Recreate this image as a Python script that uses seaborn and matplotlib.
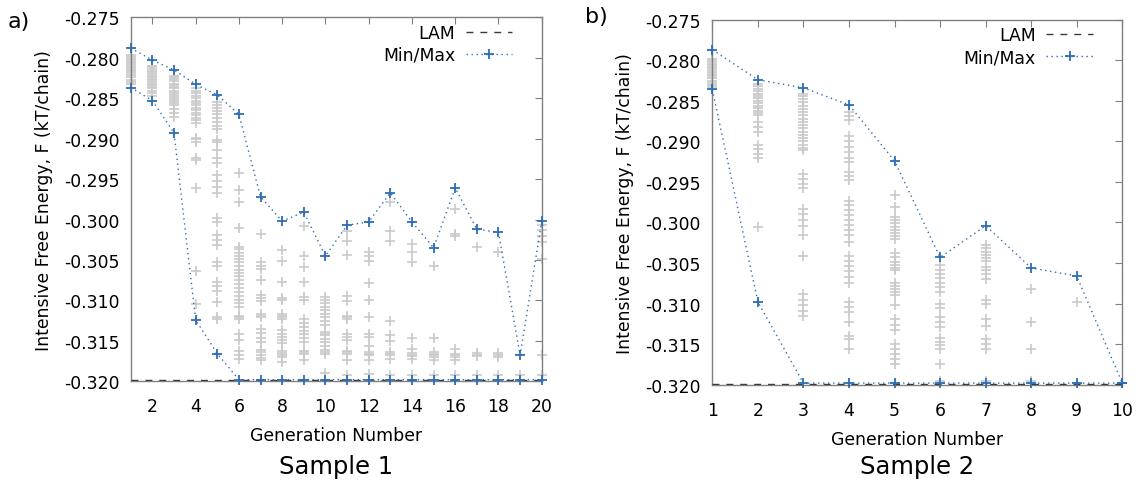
import numpy as np
import pandas as pd
import matplotlib
matplotlib.use("Agg")
import matplotlib.pyplot as plt
import seaborn as sns
from matplotlib.lines import Line2D

# ---------------- data ----------------
lam_value = -0.31985

s1_gens = list(range(1, 21))
s1_max = [-0.2788, -0.2803, -0.2815, -0.2833, -0.2846, -0.2870, -0.2972, -0.3002, -0.2991, -0.3045,
          -0.3007, -0.3003, -0.2967, -0.3003, -0.3035, -0.2961, -0.3012, -0.3016, -0.3168, -0.3002]
s1_min = [-0.2837, -0.2853, -0.2893, -0.3124, -0.3166, -0.3198, -0.3198, -0.3198, -0.3198, -0.3198,
          -0.3198, -0.3198, -0.3198, -0.3198, -0.3198, -0.3198, -0.3198, -0.3198, -0.3198, -0.3198]
s1_pop = [
    [-0.2797, -0.2799, -0.2801, -0.2803, -0.2805, -0.2807, -0.2809, -0.2811, -0.2813, -0.2815, -0.2817,
     -0.2819, -0.2821, -0.2824, -0.2827, -0.2830, -0.2833],
    [-0.2810, -0.2812, -0.2814, -0.2816, -0.2818, -0.2820, -0.2822, -0.2824, -0.2826, -0.2828, -0.2830,
     -0.2832, -0.2834, -0.2836, -0.2838, -0.2841, -0.2844, -0.2847],
    [-0.2822, -0.2824, -0.2826, -0.2829, -0.2832, -0.2834, -0.2836, -0.2838, -0.2841, -0.2844, -0.2846,
     -0.2849, -0.2851, -0.2853, -0.2856, -0.2859, -0.2863, -0.2868, -0.2873],
    [-0.2838, -0.2841, -0.2844, -0.2847, -0.2850, -0.2853, -0.2856, -0.2859, -0.2862, -0.2865, -0.2868,
     -0.2871, -0.2874, -0.2877, -0.2881, -0.2899, -0.2901, -0.2904, -0.2924, -0.2927, -0.2961, -0.3064,
     -0.3105],
    [-0.2855, -0.2858, -0.2862, -0.2866, -0.2870, -0.2875, -0.2879, -0.2884, -0.2888, -0.2902, -0.2904,
     -0.2914, -0.2924, -0.2930, -0.2945, -0.2952, -0.2960, -0.2967, -0.2998, -0.3003, -0.3019, -0.3025,
     -0.3032, -0.3052, -0.3058, -0.3077, -0.3082, -0.3088, -0.3102, -0.3120, -0.3123],
    [-0.2943, -0.2963, -0.2978, -0.3011, -0.3034, -0.3037, -0.3041, -0.3045, -0.3049, -0.3053, -0.3057,
     -0.3062, -0.3066, -0.3070, -0.3075, -0.3080, -0.3085, -0.3090, -0.3094, -0.3099, -0.3103, -0.3108,
     -0.3119, -0.3121, -0.3123, -0.3142, -0.3149, -0.3162, -0.3167, -0.3172],
    [-0.3018, -0.3053, -0.3057, -0.3061, -0.3075, -0.3093, -0.3097, -0.3101, -0.3117, -0.3119, -0.3121,
     -0.3135, -0.3140, -0.3146, -0.3151, -0.3161, -0.3164, -0.3167, -0.3171, -0.3174],
    [-0.3038, -0.3051, -0.3077, -0.3097, -0.3100, -0.3117, -0.3119, -0.3121, -0.3123, -0.3137, -0.3141,
     -0.3145, -0.3149, -0.3153, -0.3163, -0.3165, -0.3167, -0.3170, -0.3176],
    [-0.3008, -0.3045, -0.3059, -0.3077, -0.3096, -0.3100, -0.3123, -0.3128, -0.3133, -0.3138, -0.3142,
     -0.3147, -0.3152, -0.3162, -0.3164, -0.3166, -0.3174],
    [-0.3096, -0.3099, -0.3103, -0.3108, -0.3112, -0.3117, -0.3121, -0.3126, -0.3131, -0.3139, -0.3141,
     -0.3143, -0.3148, -0.3152, -0.3157, -0.3161, -0.3164, -0.3166, -0.3190],
    [-0.3014, -0.3026, -0.3044, -0.3094, -0.3101, -0.3119, -0.3121, -0.3123, -0.3141, -0.3145, -0.3149,
     -0.3162, -0.3164, -0.3166, -0.3174, -0.3192],
    [-0.3040, -0.3045, -0.3051, -0.3079, -0.3100, -0.3121, -0.3141, -0.3145, -0.3156, -0.3164, -0.3166,
     -0.3168, -0.3174, -0.3191],
    [-0.2978, -0.3014, -0.3027, -0.3125, -0.3143, -0.3150, -0.3164, -0.3166, -0.3168, -0.3172, -0.3192],
    [-0.3030, -0.3040, -0.3053, -0.3147, -0.3160, -0.3165, -0.3167, -0.3169, -0.3172, -0.3192],
    [-0.3057, -0.3147, -0.3164, -0.3166, -0.3168, -0.3170, -0.3174, -0.3192],
    [-0.2987, -0.3018, -0.3020, -0.3160, -0.3166, -0.3168, -0.3170, -0.3174, -0.3192],
    [-0.3034, -0.3165, -0.3167, -0.3169, -0.3192],
    [-0.3040, -0.3165, -0.3167, -0.3170, -0.3192],
    [-0.3192],
    [-0.3007, -0.3013, -0.3020, -0.3028, -0.3049, -0.3168, -0.3192],
]

s2_gens = list(range(1, 11))
s2_max = [-0.2787, -0.2824, -0.2834, -0.2855, -0.2924, -0.3043, -0.3004, -0.3056, -0.3066, -0.3198]
s2_min = [-0.2836, -0.3098, -0.3198, -0.3198, -0.3198, -0.3198, -0.3198, -0.3198, -0.3198, -0.3198]
s2_pop = [
    [-0.2798, -0.2800, -0.2802, -0.2804, -0.2806, -0.2808, -0.2810, -0.2812, -0.2814, -0.2816, -0.2818,
     -0.2820, -0.2822, -0.2825, -0.2828, -0.2831, -0.2833],
    [-0.2829, -0.2832, -0.2835, -0.2838, -0.2841, -0.2844, -0.2847, -0.2850, -0.2853, -0.2856, -0.2859,
     -0.2862, -0.2865, -0.2868, -0.2876, -0.2882, -0.2888, -0.2905, -0.2910, -0.2916, -0.2921, -0.3005],
    [-0.2841, -0.2844, -0.2848, -0.2852, -0.2856, -0.2860, -0.2864, -0.2868, -0.2872, -0.2876, -0.2880,
     -0.2884, -0.2888, -0.2892, -0.2896, -0.2900, -0.2904, -0.2908, -0.2911, -0.2940, -0.2946, -0.2952,
     -0.2958, -0.2983, -0.2990, -0.2997, -0.3004, -0.3016, -0.3041, -0.3088, -0.3095, -0.3102, -0.3109,
     -0.3115],
    [-0.2864, -0.2869, -0.2874, -0.2893, -0.2900, -0.2907, -0.2913, -0.2920, -0.2926, -0.2938, -0.2943,
     -0.2948, -0.2973, -0.2979, -0.2985, -0.2991, -0.2997, -0.3003, -0.3009, -0.3015, -0.3024, -0.3041,
     -0.3047, -0.3054, -0.3060, -0.3067, -0.3074, -0.3098, -0.3104, -0.3110, -0.3123, -0.3140, -0.3144,
     -0.3156],
    [-0.2966, -0.2981, -0.2993, -0.2997, -0.3001, -0.3005, -0.3009, -0.3013, -0.3017, -0.3020, -0.3037,
     -0.3043, -0.3049, -0.3053, -0.3056, -0.3059, -0.3074, -0.3078, -0.3082, -0.3086, -0.3090, -0.3102,
     -0.3119, -0.3126, -0.3133, -0.3150, -0.3156, -0.3162, -0.3168, -0.3174],
    [-0.3053, -0.3058, -0.3063, -0.3069, -0.3075, -0.3080, -0.3086, -0.3100, -0.3105, -0.3117, -0.3123,
     -0.3129, -0.3142, -0.3147, -0.3151, -0.3156, -0.3174, -0.3195],
    [-0.3028, -0.3032, -0.3036, -0.3040, -0.3044, -0.3047, -0.3055, -0.3059, -0.3063, -0.3070, -0.3096,
     -0.3100, -0.3119, -0.3127, -0.3144, -0.3150, -0.3156, -0.3195],
    [-0.3082, -0.3123, -0.3156, -0.3195],
    [-0.3098],
    [],
]

y_ticks = [-0.275, -0.280, -0.285, -0.290, -0.295, -0.300, -0.305, -0.310, -0.315, -0.320]
s1_xticks = [2, 4, 6, 8, 10, 12, 14, 16, 18, 20]
s2_xticks = [1, 2, 3, 4, 5, 6, 7, 8, 9, 10]

# ---------------- style ----------------
sns.set_style("white")
plt.rcParams['font.family'] = ['DejaVu Sans']
plt.rcParams['axes.unicode_minus'] = False
plt.rcParams['text.color'] = 'black'
plt.rcParams['axes.labelcolor'] = 'black'
plt.rcParams['xtick.color'] = 'black'
plt.rcParams['ytick.color'] = 'black'

BLUE = '#2e6db4'
GRAY = '#cacaca'
LAMC = '#3a3a3a'
FS = 12.4
DOT = (1, 2.6)
DASH = (5, 5)

fig = plt.figure(figsize=(11.41, 4.85), dpi=100)
ax1 = fig.add_axes([0.1146, 0.2118, 0.3602, 0.7505])
ax2 = fig.add_axes([0.6243, 0.2047, 0.3593, 0.7526])


def draw(ax, gens, pop, mx, mn, xticks, xlim, sample):
    df = pd.DataFrame({'gen': [g for g, vals in zip(gens, pop) for _ in vals],
                       'F': [v for vals in pop for v in vals]})
    sns.scatterplot(data=df, x='gen', y='F', marker='+', color=GRAY, s=52,
                    linewidth=1.2, ax=ax, zorder=2, clip_on=False, legend=False)
    ax.axhline(lam_value, color=LAMC, lw=1.0, dashes=DASH, zorder=3)
    for series in (mx, mn):
        sns.lineplot(x=gens, y=series, ax=ax, color=BLUE, lw=1.0, marker='+',
                     markersize=7.2, markeredgewidth=1.3, markeredgecolor=BLUE,
                     zorder=4, clip_on=False, estimator=None, sort=False, legend=False)
    for ln in ax.get_lines():
        if ln.get_color() == BLUE:
            ln.set_dashes(DOT)
    ax.set_xlim(*xlim)
    ax.set_ylim(-0.320, -0.275)
    ax.set_xticks(xticks)
    ax.set_yticks(y_ticks)
    ax.set_yticklabels([f"{t:.3f}" for t in y_ticks])
    ax.tick_params(axis='both', direction='in', length=5, width=0.8, color='#808080',
                   top=True, right=True, labelsize=FS, labelcolor='black')
    ax.tick_params(axis='x', pad=11.4)
    ax.tick_params(axis='y', pad=8.2)
    for sp in ax.spines.values():
        sp.set_color('#808080')
        sp.set_linewidth(1.0)
    ax.set_xlabel('Generation Number', fontsize=FS, color='black')
    ax.set_ylabel('Intensive Free Energy, F (kT/chain)', fontsize=FS, color='black')
    ax.xaxis.set_label_coords(0.5, -0.124)
    ax.yaxis.set_label_coords(-0.19, 0.5)
    handles = [Line2D([], [], color=LAMC, lw=1.0, dashes=DASH),
               Line2D([], [], color=BLUE, lw=1.0, dashes=DOT, marker='+', markersize=7.2,
                      markeredgewidth=1.3, markeredgecolor=BLUE)]
    ax.legend(handles, ['LAM', 'Min/Max'], loc='upper right', bbox_to_anchor=(0.928, 0.982),
              markerfirst=False, frameon=False, fontsize=FS, handlelength=2.7,
              handletextpad=0.6, borderpad=0, borderaxespad=0, labelspacing=0.22, numpoints=1,
              labelcolor='black')
    pos = ax.get_position()
    fig.text((pos.x0 + pos.x1) / 2, 0.0227, sample, ha='center', va='baseline',
             fontsize=17.5, color='black')


draw(ax1, s1_gens, s1_pop, s1_max, s1_min, s1_xticks, (1, 20), 'Sample 1')
draw(ax2, s2_gens, s2_pop, s2_max, s2_min, s2_xticks, (1, 10), 'Sample 2')

fig.text(8 / 1141, 1 - 28 / 485, 'a)', ha='left', va='baseline', fontsize=16, color='black')
fig.text(585 / 1141, 1 - 23 / 485, 'b)', ha='left', va='baseline', fontsize=16, color='black')

fig.savefig('out.png', dpi=100)
